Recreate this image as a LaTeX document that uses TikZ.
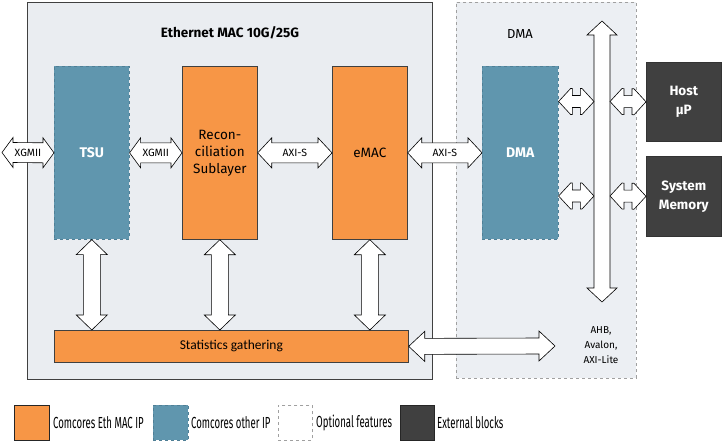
\documentclass[tikz,border=0pt]{standalone}
\usepackage{fontspec}
\setmainfont{Fira Sans}
\newfontfamily\calfont{Carlito}
\usetikzlibrary{calc}
\definecolor{macorange}{HTML}{F79646}
\definecolor{ipblue}{HTML}{6096AE}
\definecolor{ipblueline}{HTML}{4F7F96}
\definecolor{extdark}{HTML}{404040}
\definecolor{panel}{HTML}{EAEDF1}
\definecolor{dmapanel}{HTML}{ECEFF3}
\definecolor{dashgray}{HTML}{A0A0A0}
\tikzset{
  blk/.style={rectangle, anchor=north west, inner sep=0pt, align=center},
  macbox/.style={blk, fill=macorange, draw=extdark, line width=0.7pt, font=\fontsize{13.5}{17}\selectfont},
  ipbox/.style={blk, fill=ipblue, draw=ipblueline, dashed, line width=0.6pt, text=white, font=\fontsize{14}{17}\selectfont\bfseries},
  extbox/.style={blk, fill=extdark, draw=black!80, line width=0.6pt, text=white, font=\fontsize{13.5}{19}\selectfont\bfseries},
  blockarrow/.style={draw=black, fill=white, line width=0.6pt, line join=miter},
  arrowlabel/.style={font=\fontsize{10.5}{12}\selectfont, inner sep=0pt},
  legtext/.style={anchor=west, inner sep=0pt, font=\fontsize{16}{18}\selectfont},
}
\newcommand{\hdarrow}[5]{%
  \draw[blockarrow] (#1) -- ([shift={(#5,#4)}]#1) -- ([shift={(#5,#3)}]#1)
    -- ([shift={(-#5,#3)}]#2) -- ([shift={(-#5,#4)}]#2) -- (#2)
    -- ([shift={(-#5,-#4)}]#2) -- ([shift={(-#5,-#3)}]#2)
    -- ([shift={(#5,-#3)}]#1) -- ([shift={(#5,-#4)}]#1) -- cycle;}
\newcommand{\vdarrow}[5]{%
  \draw[blockarrow] (#1) -- ([shift={(#4,#5)}]#1) -- ([shift={(#3,#5)}]#1)
    -- ([shift={(#3,-#5)}]#2) -- ([shift={(#4,-#5)}]#2) -- (#2)
    -- ([shift={(-#4,-#5)}]#2) -- ([shift={(-#3,-#5)}]#2)
    -- ([shift={(-#3,#5)}]#1) -- ([shift={(-#4,#5)}]#1) -- cycle;}
\newcommand{\ntarrow}[2]{%
  \draw[blockarrow] (#1) -- ([shift={(12,-13)}]#1)
    -- ($(#1)!0.5!(#2)+(-4,-13)$) -- ($(#1)!0.5!(#2)+(-4,-6)$)
    -- ($(#1)!0.5!(#2)+(4,-6)$) -- ($(#1)!0.5!(#2)+(4,-13)$)
    -- ([shift={(-12,-13)}]#2) -- (#2) -- ([shift={(-12,13)}]#2)
    -- ($(#1)!0.5!(#2)+(4,13)$) -- ($(#1)!0.5!(#2)+(4,6)$)
    -- ($(#1)!0.5!(#2)+(-4,6)$) -- ($(#1)!0.5!(#2)+(-4,13)$)
    -- ([shift={(12,13)}]#1) -- cycle;}
\begin{document}
\begin{tikzpicture}[x=1pt,y=-1pt]
\useasboundingbox (0,0) rectangle (727,445);
% panels
\node[blk, fill=panel, draw=extdark, line width=0.7pt, minimum width=405pt, minimum height=377pt] (mac) at (27,2) {};
\node[blk, fill=dmapanel, draw=dashgray, dashed, line width=0.6pt, minimum width=180pt, minimum height=376pt] (dmapanel) at (456,2) {};
\node[font=\fontsize{13.5}{16}\selectfont\bfseries] (mactitle) at (230,33) {Ethernet MAC 10G/25G};
\node[font=\fontsize{13}{16}\selectfont] (dmatitle) at (520,34) {DMA};
% blocks
\node[ipbox, minimum width=75pt, minimum height=173pt] (tsu) at (54,66) {TSU};
\node[macbox, minimum width=75pt, minimum height=173pt] (rs) at (182,66) {Recon-\\ciliation\\Sublayer};
\node[macbox, minimum width=75pt, minimum height=173pt] (emac) at (332,66) {eMAC};
\node[ipbox, minimum width=76pt, minimum height=173pt] (dma) at (482,66) {DMA};
\node[macbox, minimum width=354pt, minimum height=32pt, font=\calfont\fontsize{13.5}{15}\selectfont] (stats) at (54,330) {Statistics gathering};
\node[extbox, minimum width=75pt, minimum height=79pt] (host) at (646,62) {Host\\µP};
\node[extbox, minimum width=75pt, minimum height=80pt] (sysmem) at (646,156) {System\\Memory};
% free ends
\coordinate (xgmiiext) at (2,152.5);
\coordinate (ahbend) at (555,346);
\coordinate (bustop) at (602,21);
\coordinate (busbot) at (602,302);
\coordinate (busl1) at (594,101.5);
\coordinate (busr1) at (610,101.5);
\coordinate (busl2) at (594,196);
\coordinate (busr2) at (610,196);
% horizontal block arrows
\hdarrow{xgmiiext}{tsu.west}{10}{15}{11}
\node[arrowlabel] (l1) at ($(xgmiiext)!0.5!(tsu.west)$) {XGMII};
\hdarrow{tsu.east}{rs.west}{10}{15}{11}
\node[arrowlabel] (l2) at ($(tsu.east)!0.5!(rs.west)$) {XGMII};
\hdarrow{rs.east}{emac.west}{10}{15}{14}
\node[arrowlabel] (l3) at ($(rs.east)!0.5!(emac.west)$) {AXI-S};
\hdarrow{emac.east}{dma.west}{10}{15}{14}
\node[arrowlabel] (l4) at ($(emac.east)!0.5!(dma.west)$) {AXI-S};
\hdarrow{stats.east}{ahbend}{8}{15}{16}
% vertical block arrows
\vdarrow{tsu.south}{tsu.south |- stats.north}{8.5}{15.5}{15}
\vdarrow{rs.south}{rs.south |- stats.north}{8.5}{15.5}{15}
\vdarrow{emac.south}{emac.south |- stats.north}{8.5}{15.5}{15}
\vdarrow{bustop}{busbot}{8}{15}{14}
% notched arrows
\ntarrow{dma.east |- busl1}{busl1}
\ntarrow{dma.east |- busl2}{busl2}
\ntarrow{busr1}{host.west}
\ntarrow{busr2}{sysmem.west}
\node[font=\fontsize{10}{15}\selectfont, align=center] (ahb) at (601,345) {AHB,\\Avalon,\\AXI-Lite};
% legend
\node[blk, fill=macorange, draw=black!85, line width=0.7pt, minimum width=35pt, minimum height=35pt] (lg1) at (14,405) {};
\node[legtext] (lt1) at (53,422.5) {\scalebox{0.6}[1]{Comcores Eth MAC IP}};
\node[blk, fill=ipblue, draw=ipblueline, dashed, line width=0.6pt, minimum width=35pt, minimum height=35pt] (lg2) at (153,405) {};
\node[legtext] (lt2) at (191,422.5) {\scalebox{0.6}[1]{Comcores other IP}};
\node[blk, fill=white, draw=dashgray, dashed, line width=0.6pt, minimum width=34pt, minimum height=35pt] (lg3) at (278,405) {};
\node[legtext] (lt3) at (316,422.5) {\scalebox{0.6}[1]{Optional features}};
\node[blk, fill=extdark, draw=black!85, line width=0.7pt, minimum width=34pt, minimum height=35pt] (lg4) at (400,405) {};
\node[legtext] (lt4) at (437,422.5) {\scalebox{0.6}[1]{External blocks}};
\end{tikzpicture}
\end{document}
